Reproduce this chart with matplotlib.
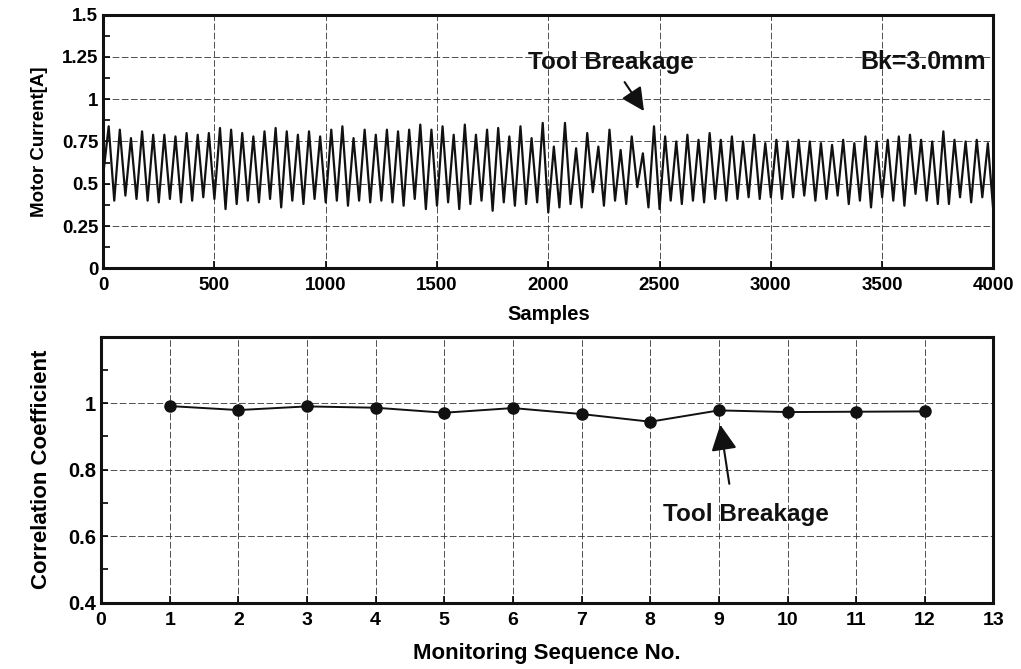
import matplotlib

matplotlib.use("Agg")
import matplotlib.pyplot as plt
import numpy as np
from matplotlib.ticker import MultipleLocator

INK = "#111111"
GRIDC = "#333333"

plt.rcParams.update({
    "font.family": ["Liberation Sans", "DejaVu Sans"],
    "font.weight": "bold",
    "axes.linewidth": 2.2,
    "axes.edgecolor": INK,
    "xtick.direction": "in",
    "ytick.direction": "in",
    "xtick.major.size": 5,
    "ytick.major.size": 5,
    "ytick.minor.size": 5,
    "xtick.major.width": 1.2,
    "ytick.major.width": 1.2,
    "ytick.minor.width": 1.2,
    "xtick.labelsize": 13.5,
    "ytick.labelsize": 13.5,
    "text.color": INK,
})

# motor current: start level, then (peak, trough) per spindle cycle
start_level = 0.55
peaks = [
    0.84, 0.82, 0.77, 0.81, 0.79, 0.79, 0.78, 0.80, 0.79, 0.80,
    0.83, 0.82, 0.80, 0.78, 0.81, 0.83, 0.81, 0.79, 0.81, 0.78,
    0.82, 0.84, 0.77, 0.82, 0.79, 0.82, 0.81, 0.82, 0.85, 0.82,
    0.84, 0.79, 0.85, 0.79, 0.82, 0.83, 0.78, 0.84, 0.77, 0.86,
    0.72, 0.86, 0.71, 0.80, 0.72, 0.82, 0.70, 0.78, 0.68, 0.84,
    0.78, 0.75, 0.79, 0.76, 0.80, 0.76, 0.78, 0.75, 0.79, 0.74,
    0.76, 0.75, 0.76, 0.75, 0.74, 0.73, 0.76, 0.74, 0.78, 0.75,
    0.76, 0.78, 0.79, 0.76, 0.75, 0.81, 0.76, 0.75, 0.76, 0.74,
]
troughs = [
    0.40, 0.43, 0.41, 0.40, 0.39, 0.41, 0.39, 0.40, 0.42, 0.41,
    0.35, 0.38, 0.40, 0.39, 0.41, 0.36, 0.40, 0.38, 0.41, 0.39,
    0.40, 0.37, 0.40, 0.39, 0.40, 0.39, 0.37, 0.41, 0.35, 0.37,
    0.39, 0.35, 0.38, 0.40, 0.34, 0.39, 0.37, 0.38, 0.39, 0.33,
    0.36, 0.38, 0.36, 0.45, 0.37, 0.40, 0.38, 0.48, 0.36, 0.35,
    0.40, 0.38, 0.40, 0.39, 0.41, 0.40, 0.41, 0.42, 0.41, 0.42,
    0.41, 0.42, 0.43, 0.40, 0.41, 0.43, 0.38, 0.40, 0.36, 0.42,
    0.40, 0.37, 0.44, 0.40, 0.38, 0.38, 0.42, 0.39, 0.42, 0.33,
]
n_samples = 4000

# correlation coefficient per monitoring sequence
seq_no = [1, 2, 3, 4, 5, 6, 7, 8, 9, 10, 11, 12]
corr = [0.991, 0.979, 0.990, 0.986, 0.971, 0.985, 0.967, 0.944, 0.978, 0.973, 0.974, 0.975]

current = [start_level]
for p, t in zip(peaks, troughs):
    current += [p, t]
samples = np.linspace(0, n_samples, len(current))

fig = plt.figure(figsize=(10.21, 6.69), dpi=100)
ax1 = fig.add_axes([0.101, 0.599, 0.872, 0.379])
ax2 = fig.add_axes([0.099, 0.099, 0.874, 0.398])

grid_kw = dict(color=GRIDC, linestyle=(0, (8, 3)), linewidth=0.6)

# top: motor current
ax1.plot(samples, current, color=INK, linewidth=1.6)
ax1.set_xlim(0, n_samples)
ax1.set_ylim(0, 1.5)
ax1.xaxis.set_major_locator(MultipleLocator(500))
ax1.set_yticks([0, 0.25, 0.5, 0.75, 1, 1.25, 1.5])
ax1.set_yticklabels(["0", "0.25", "0.5", "0.75", "1", "1.25", "1.5"])
ax1.yaxis.set_minor_locator(MultipleLocator(0.125))
ax1.grid(True, **grid_kw)
ax1.set_axisbelow(True)
ax1.tick_params(axis="x", pad=6)
ax1.set_xlabel("Samples", fontsize=14.5, fontweight="bold", labelpad=8)
ax1.set_ylabel("Motor Current[A]", fontsize=13.5, fontweight="bold", labelpad=10)
ax1.annotate("Tool Breakage", xy=(2430, 0.93), xytext=(2280, 1.22),
             fontsize=17.5, fontweight="bold", ha="center", va="center",
             arrowprops=dict(arrowstyle="-|>,head_length=0.8,head_width=0.4",
                             color=INK, lw=1.5, relpos=(0.55, 0.0), shrinkA=5, shrinkB=0))
ax1.text(3965, 1.22, "Bk=3.0mm", fontsize=18, ha="right", va="center",
         fontweight="bold")

# bottom: correlation coefficient
ax2.plot(seq_no, corr, color=INK, linewidth=1.4, marker="o", markersize=8)
ax2.set_xlim(0, 13)
ax2.set_ylim(0.4, 1.2)
ax2.set_xticks(range(0, 14))
ax2.set_yticks([0.4, 0.6, 0.8, 1.0])
ax2.set_yticklabels(["0.4", "0.6", "0.8", "1"])
ax2.yaxis.set_minor_locator(MultipleLocator(0.1))
ax2.grid(True, **grid_kw)
ax2.set_axisbelow(True)
ax2.tick_params(axis="x", labelsize=14, pad=7)
ax2.tick_params(axis="y", labelsize=14.5)
ax2.set_xlabel("Monitoring Sequence No.", fontsize=16, fontweight="bold", labelpad=10)
ax2.set_ylabel("Correlation Coefficient", fontsize=16, fontweight="bold", labelpad=12)
ax2.annotate("Tool Breakage", xy=(9.02, 0.935), xytext=(8.18, 0.665),
             fontsize=17.5, fontweight="bold", ha="left", va="center",
             arrowprops=dict(arrowstyle="-|>,head_length=0.9,head_width=0.45",
                             color=INK, lw=1.5, relpos=(0.42, 1.0), shrinkA=12, shrinkB=0))

for ax in (ax1, ax2):
    for lab in ax.get_xticklabels() + ax.get_yticklabels():
        lab.set_fontweight("bold")

fig.savefig("out.png", dpi=100, facecolor="white")
